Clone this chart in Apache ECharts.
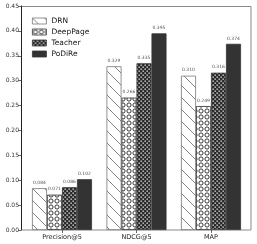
<!DOCTYPE html>
<html>
<head>
<meta charset="utf-8">
<script src="https://cdn.jsdelivr.net/npm/echarts@6/dist/echarts.min.js"></script>
<style>html,body{margin:0;padding:0;background:#fff}#c{width:257px;height:244px}</style>
</head>
<body>
<div id="c"></div>
<script>
const categories = ['Precision@5', 'NDCG@5', 'MAP'];
const seriesNames = ['DRN', 'DeepPage', 'Teacher', 'PoDiRe'];
const drn = [0.084, 0.329, 0.310];
const deepPage = [0.071, 0.266, 0.249];
const teacher = [0.086, 0.335, 0.316];
const podire = [0.102, 0.395, 0.374];
const yTicks = [0, 0.05, 0.10, 0.15, 0.20, 0.25, 0.30, 0.35, 0.40, 0.45];

function tile(w, h, draw) {
  const c = document.createElement('canvas');
  c.width = w; c.height = h;
  const g = c.getContext('2d');
  draw(g, w, h);
  return { image: c, repeat: 'repeat' };
}
const patDRN = tile(12, 12, (g, w, h) => {
  g.fillStyle = '#fff'; g.fillRect(0, 0, w, h);
  g.strokeStyle = '#777'; g.lineWidth = 0.9;
  g.beginPath();
  g.moveTo(-2, -2); g.lineTo(w + 2, h + 2);
  g.moveTo(-2 - w, -2); g.lineTo(2, h + 2);
  g.moveTo(w - 2, -2); g.lineTo(2 * w + 2, h + 2);
  g.stroke();
});
const patDeep = tile(6, 6, (g, w, h) => {
  g.fillStyle = '#fff'; g.fillRect(0, 0, w, h);
  g.strokeStyle = '#222'; g.lineWidth = 0.9;
  g.beginPath(); g.arc(3, 3, 2.1, 0, Math.PI * 2); g.stroke();
});
const patTeacher = tile(4, 4, (g, w, h) => {
  g.fillStyle = '#2a2a2a'; g.fillRect(0, 0, w, h);
  g.fillStyle = '#f4f4f4';
  g.fillRect(0.5, 0.5, 1.3, 1.3);
  g.fillRect(2.5, 2.5, 1.3, 1.3);
});
const fills = [patDRN, patDeep, patTeacher, '#333333'];
const borders = ['#777', '#333', '#333', '#333'];
const dataSets = [drn, deepPage, teacher, podire];

const chart = echarts.init(document.getElementById('c'), null, { renderer: 'canvas' });
chart.setOption({
  animation: false,
  backgroundColor: '#fff',
  grid: { left: 24.75, right: 8.75, top: 6, bottom: 14, containLabel: false },
  graphic: [{
    type: 'rect', z: 0, silent: true,
    shape: { x: 21.5, y: 6.5, width: 229.5, height: 223.5 },
    style: { fill: 'none', stroke: '#8a8a8a', lineWidth: 1 }
  }],
  legend: {
    orient: 'vertical', left: 27, top: 12,
    itemWidth: 14, itemHeight: 6, itemGap: 3,
    textStyle: { fontSize: 7.5, color: '#111', fontFamily: 'DejaVu Sans' },
    data: seriesNames.map((n, i) => ({ name: n, icon: 'rect', itemStyle: { color: fills[i], borderColor: borders[i], borderWidth: 0.8 } }))
  },
  xAxis: {
    type: 'category', data: categories,
    axisLine: { show: false },
    axisTick: { show: true, alignWithLabel: true, length: 3, lineStyle: { color: '#444', width: 0.8 } },
    axisLabel: { fontSize: 6.5, color: '#222', margin: 4, fontFamily: 'DejaVu Sans' }
  },
  yAxis: {
    type: 'value', min: 0, max: 0.45, interval: 0.05, offset: 3.75,
    axisLine: { show: true, lineStyle: { color: '#222', width: 1 } },
    axisTick: { show: true, length: 3, lineStyle: { color: '#444', width: 0.8 } },
    splitLine: { show: false },
    axisLabel: { fontSize: 6, color: '#333', margin: 2, fontFamily: 'DejaVu Sans',
      formatter: v => { const t = yTicks.find(x => Math.abs(x - v) < 1e-9); return (t !== undefined ? t : v).toFixed(2); } }
  },
  series: dataSets.map((d, i) => ({
    name: seriesNames[i], type: 'bar', data: d,
    barWidth: 15, barGap: '0%',
    itemStyle: { color: fills[i], borderColor: borders[i], borderWidth: 0.8 },
    label: { show: true, position: 'top', distance: 3, fontSize: 4.5, color: '#555', fontFamily: 'DejaVu Sans',
      formatter: p => p.value.toFixed(3) }
  }))
});
</script>
</body>
</html>
